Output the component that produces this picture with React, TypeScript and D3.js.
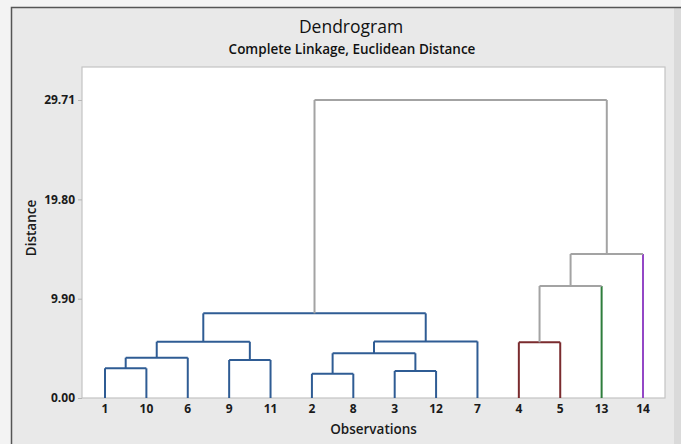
import { useEffect, useRef } from 'react';
import * as d3 from 'd3';

// leaf order along the x axis
const leafOrder = ['1', '10', '6', '9', '11', '2', '8', '3', '12', '7', '4', '5', '13', '14'];
// cluster of each leaf (same order as leafOrder)
const leafCluster = [0, 0, 0, 0, 0, 0, 0, 0, 0, 0, 1, 1, 2, 3];
const clusterColors = ['#2f5c94', '#7a2b2e', '#2e7d3c', '#9447c6'];
const linkGray = '#a3a3a3';

// merges: node "cN" is the N-th merge
const mergeA = ['1', 'c0', '9', 'c1', '2', '3', 'c4', 'c6', 'c3', '4', 'c9', 'c10', 'c8'];
const mergeB = ['10', '6', '11', 'c2', '8', '12', 'c5', '7', 'c7', '5', '13', '14', 'c11'];
const mergeDist = [2.96, 4.02, 3.79, 5.61, 2.42, 2.69, 4.46, 5.64, 8.44, 5.55, 11.17, 14.36, 29.71];

const yTicks = [0, 9.9, 19.8, 29.71];

const W = 681;
const H = 444;
const plot = { left: 82, right: 665, top: 67, bottom: 398 };
const font = '"Open Sans", "Noto Sans", sans-serif';

const App = () => {
  const ref = useRef<SVGSVGElement>(null);

  useEffect(() => {
    if (!ref.current) return;
    const svg = d3.select(ref.current);
    svg.selectAll('*').remove();

    // backgrounds
    svg.append('rect').attr('width', W).attr('height', H).attr('fill', '#f3f3f3');
    svg.append('rect').attr('x', 11).attr('y', 7).attr('width', W - 11).attr('height', H - 7)
      .attr('fill', '#e9e9e9');
    svg.append('rect').attr('x', 674).attr('y', 7).attr('width', 7).attr('height', H - 7)
      .attr('fill', '#dadada');
    svg.append('path').attr('d', `M11.5,${H} V7.5 H${W}`)
      .attr('fill', 'none').attr('stroke', '#555').attr('stroke-width', 1.5);

    svg.append('rect')
      .attr('x', plot.left).attr('y', plot.top)
      .attr('width', plot.right - plot.left).attr('height', plot.bottom - plot.top)
      .attr('fill', '#fff').attr('stroke', '#c4c4c4').attr('stroke-width', 1.2);

    const x = d3.scalePoint<string>()
      .domain(leafOrder)
      .range([plot.left + 23, plot.right - 22]);

    const y = d3.scaleLinear()
      .domain([0, 29.71])
      .range([plot.bottom, 100]);

    // y axis
    const yAxis = svg.append('g')
      .attr('transform', `translate(${plot.left},0)`)
      .call(d3.axisLeft(y).tickValues(yTicks).tickSize(4).tickPadding(3).tickFormat(d => (d as number).toFixed(2)));
    yAxis.select('.domain').remove();
    yAxis.selectAll('line').attr('stroke', '#b5b5b5');
    yAxis.selectAll('text')
      .style('font-family', font).style('font-size', '12px').style('font-weight', 700)
      .attr('fill', '#1a1a1a');

    // x labels
    svg.append('g').selectAll('text')
      .data(leafOrder)
      .enter()
      .append('text')
      .attr('x', d => x(d) || 0)
      .attr('y', 413)
      .attr('text-anchor', 'middle')
      .style('font-family', font).style('font-size', '12px').style('font-weight', 700)
      .attr('fill', '#1a1a1a')
      .text(d => d);

    // compute node positions
    const pos: Record<string, { x: number; h: number; cluster: number; leaf: boolean }> = {};
    leafOrder.forEach((l, i) => {
      pos[l] = { x: x(l) || 0, h: 0, cluster: leafCluster[i], leaf: true };
    });
    mergeA.forEach((a, i) => {
      const pa = pos[a];
      const pb = pos[mergeB[i]];
      pos['c' + i] = {
        x: (pa.x + pb.x) / 2,
        h: mergeDist[i],
        cluster: pa.cluster === pb.cluster ? pa.cluster : -1,
        leaf: false,
      };
    });

    const links = svg.append('g').attr('fill', 'none').attr('stroke-width', 2);
    mergeA.forEach((a, i) => {
      const node = pos['c' + i];
      const kids = [pos[a], pos[mergeB[i]]];
      const hColor = node.cluster >= 0 ? clusterColors[node.cluster] : linkGray;
      kids.forEach(k => {
        // singleton leaves keep their cluster colour up to the join
        const vColor = k.leaf || node.cluster >= 0 ? clusterColors[k.cluster] : linkGray;
        links.append('path')
          .attr('d', `M${k.x},${y(k.h)} V${y(node.h)}`)
          .attr('stroke', vColor);
      });
      links.append('path')
        .attr('d', `M${kids[0].x},${y(node.h)} H${kids[1].x}`)
        .attr('stroke', hColor);
    });

    // titles
    svg.append('text')
      .attr('x', 351).attr('y', 33)
      .attr('text-anchor', 'middle')
      .style('font-family', font).style('font-size', '17.5px').style('font-weight', 400)
      .attr('fill', '#111')
      .text('Dendrogram');
    svg.append('text')
      .attr('x', 352).attr('y', 54)
      .attr('text-anchor', 'middle')
      .style('font-family', font).style('font-size', '13.5px').style('font-weight', 600)
      .attr('fill', '#111')
      .text('Complete Linkage, Euclidean Distance');

    svg.append('text')
      .attr('x', (plot.left + plot.right) / 2).attr('y', 434)
      .attr('text-anchor', 'middle')
      .style('font-family', font).style('font-size', '13.5px').style('font-weight', 600)
      .attr('fill', '#1a1a1a')
      .text('Observations');
    svg.append('text')
      .attr('transform', `translate(36,228) rotate(-90)`)
      .attr('text-anchor', 'middle')
      .style('font-family', font).style('font-size', '13.5px').style('font-weight', 600)
      .attr('fill', '#1a1a1a')
      .text('Distance');
  }, []);

  return (
    <svg
      ref={ref}
      width={W}
      height={H}
      style={{ position: 'absolute', left: 0, top: 0, display: 'block' }}
    />
  );
};

export default App;
